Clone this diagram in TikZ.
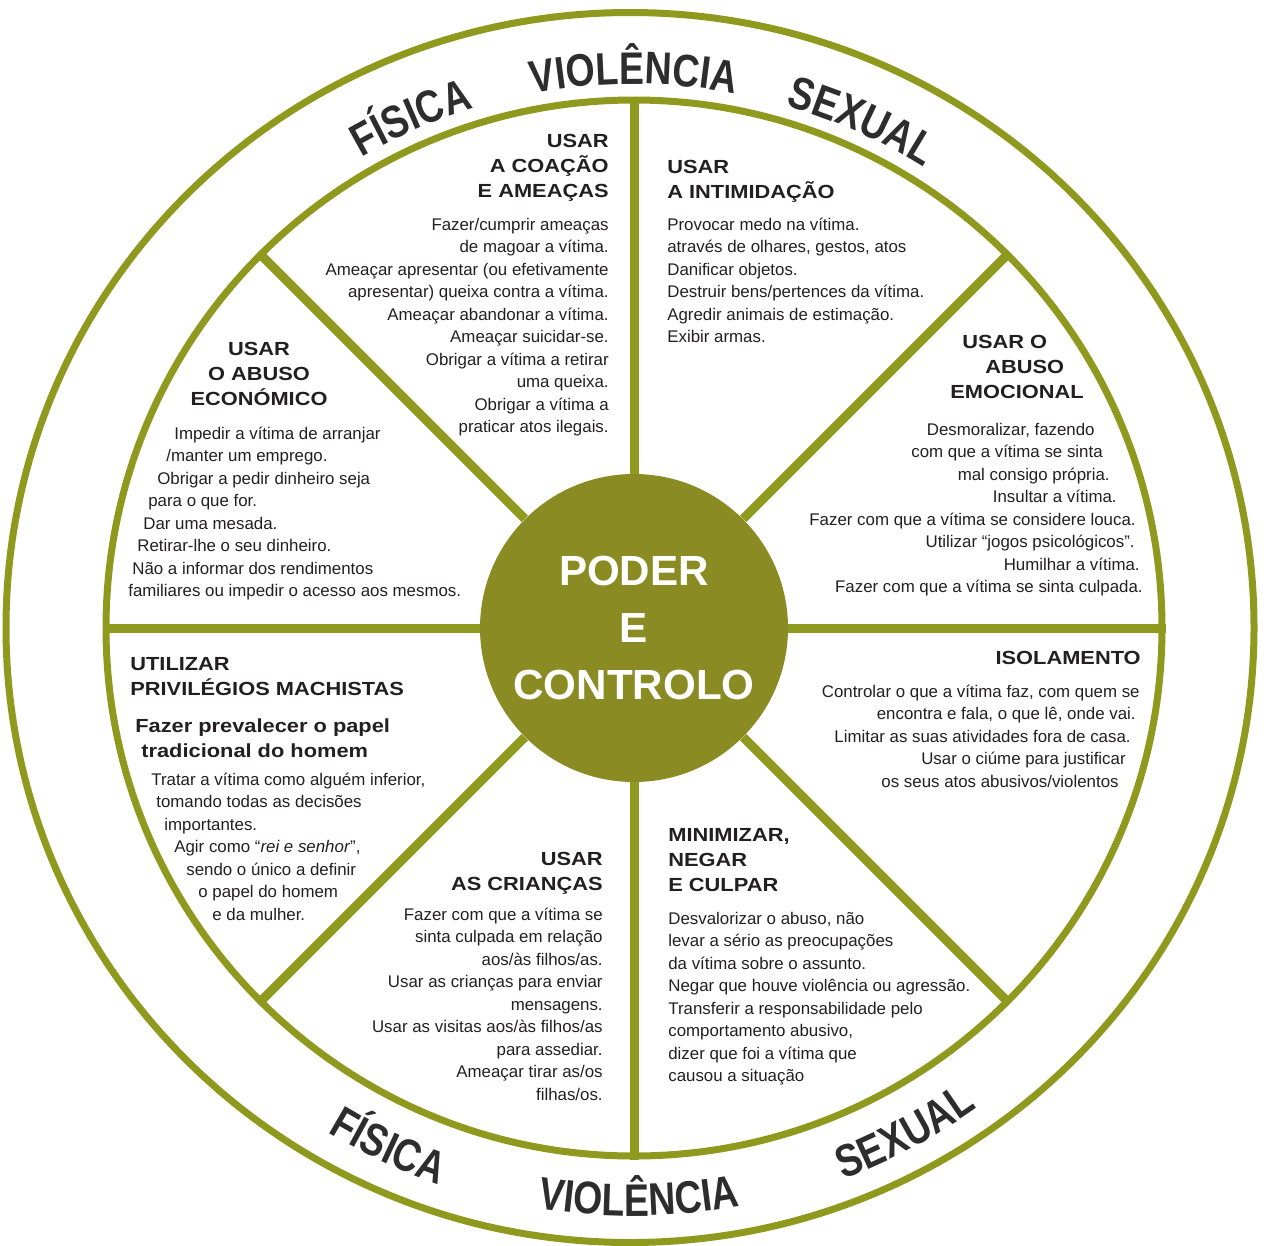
\documentclass[tikz,border=0pt]{standalone}
\usepackage{fontspec}
\setmainfont{Liberation Sans}
\newfontfamily\headfont[FakeStretch=1.15]{Liberation Sans}
\newfontfamily\ringfont[FakeStretch=0.82]{Liberation Sans}
\usetikzlibrary{decorations.text}

\definecolor{wheelgreen}{RGB}{143,153,30}
\definecolor{hubgreen}{RGB}{139,139,36}
\definecolor{ink}{RGB}{35,31,32}
\definecolor{ringink}{RGB}{45,45,45}

\newlength{\px}\setlength{\px}{0.02cm}
\newcommand{\lind}[1]{\hspace*{#1\px}}
\newcommand{\rind}[1]{\kern#1\px}
\newcommand{\bodytxt}{\fontsize{9.6}{12.8}\selectfont}
\newcommand{\headtxt}{\headfont\bfseries\fontsize{10.8}{14.4}\selectfont}
\newcommand{\ringtxt}{\ringfont\bfseries\fontsize{26}{26}\selectfont\color{ringink}}

\tikzset{
  body/.style={font=\bodytxt, text=ink, inner sep=0pt},
  head/.style={font=\headtxt, text=ink, inner sep=0pt},
  ringtext/.style={decorate, decoration={text along path, text align=center, text={|\ringtxt|#1}}},
}

\begin{document}
\begin{tikzpicture}[x=0.02cm, y=0.02cm]
\useasboundingbox (0,0) rectangle (1264,-1245);

\draw[wheelgreen, line width=7\px] (630,-627.5) ellipse [x radius=624, y radius=615];
\node (ring) [circle, draw=wheelgreen, line width=7\px, minimum size=1056\px, inner sep=0pt] at (634,-628) {};
\node (hub) [circle, fill=hubgreen, minimum size=308\px, inner sep=0pt, text=white, align=center,
  font=\bfseries\fontsize{24}{32.3}\selectfont] at (634,-628) {PODER\\E\\CONTROLO};
\foreach \a in {0,45,...,315}
  \draw[wheelgreen, line width=9\px] (hub.\a) -- (ring.\a);

\begin{scope}[shift={(634,-628)}]
\path[ringtext=VIOLÊNCIA] (110:544) arc[start angle=110, end angle=70, radius=544];
\path[ringtext=FÍSICA] (133.6:544) arc[start angle=133.6, end angle=93.6, radius=544];
\path[ringtext=SEXUAL] (85.8:544) arc[start angle=85.8, end angle=45.8, radius=544];
\path[ringtext=VIOLÊNCIA] (-109.5:588) arc[start angle=-109.5, end angle=-69.5, radius=588];
\path[ringtext=FÍSICA] (-135.3:590) arc[start angle=-135.3, end angle=-95.3, radius=590];
\path[ringtext=SEXUAL] (-81.8:590) arc[start angle=-81.8, end angle=-41.8, radius=590];
\end{scope}

% anchors sit on the baseline of the last line
\node (coacaoH) [head, align=right, anchor=base east] at (609,-197.6) {USAR\\A COAÇÃO\\E AMEAÇAS};
\node (coacao) [body, align=right, anchor=base east] at (609,-432.5) {Fazer/cumprir ameaças\\de magoar a vítima.\\Ameaçar apresentar (ou efetivamente\\apresentar) queixa contra a vítima.\\Ameaçar abandonar a vítima.\\Ameaçar suicidar-se.\\Obrigar a vítima a retirar\\uma queixa.\\Obrigar a vítima a\\praticar atos ilegais.};

\node (intimH) [head, align=left, anchor=base west] at (667,-198.3) {USAR\\A INTIMIDAÇÃO};
\node (intim) [body, align=left, anchor=base west] at (667,-342.5) {Provocar medo na vítima.\\através de olhares, gestos, atos\\Danificar objetos.\\Destruir bens/pertences da vítima.\\Agredir animais de estimação.\\Exibir armas.};

\node (emocH) [head, align=left, anchor=base west] at (950,-398.6) {\lind{12}USAR O\\\lind{35}ABUSO\\EMOCIONAL};
\node (emoc) [body, align=right, anchor=base east] at (1143,-592.5) {Desmoralizar, fazendo\rind{48}\\com que a vítima se sinta\rind{40}\\mal consigo própria.\rind{33}\\Insultar a vítima.\rind{26}\\Fazer com que a vítima se considere louca.\rind{7}\\Utilizar “jogos psicológicos”.\rind{8}\\Humilhar a vítima.\rind{3}\\Fazer com que a vítima se sinta culpada.};

\node (isolH) [head, anchor=base east] at (1141,-664) {ISOLAMENTO};
\node (isol) [body, align=right, anchor=base east] at (1140,-787) {Controlar o que a vítima faz, com quem se\\encontra e fala, o que lê, onde vai.\rind{4}\\Limitar as suas atividades fora de casa.\rind{9}\\Usar o ciúme para justificar\rind{14}\\os seus atos abusivos/violentos\rind{21}};

\node (minimH) [head, align=left, anchor=base west] at (668,-891.6) {MINIMIZAR,\\NEGAR\\E CULPAR};
\node (minim) [body, align=left, anchor=base west] at (668,-1081.5) {Desvalorizar o abuso, não\\levar a sério as preocupações\\da vítima sobre o assunto.\\Negar que houve violência ou agressão.\\Transferir a responsabilidade pelo\\comportamento abusivo,\\dizer que foi a vítima que\\causou a situação};

\node (criancasH) [head, align=right, anchor=base east] at (603,-890.3) {USAR\\AS CRIANÇAS};
\node (criancas) [body, align=right, anchor=base east] at (603,-1100) {Fazer com que a vítima se\\sinta culpada em relação\\aos/às filhos/as.\\Usar as crianças para enviar\\mensagens.\\Usar as visitas aos/às filhos/as\\para assediar.\\Ameaçar tirar as/os\\filhas/os.};

\node (machH) [head, align=left, anchor=base west] at (130,-695.3) {UTILIZAR\\PRIVILÉGIOS MACHISTAS};
\node (machSub) [head, align=left, anchor=base west] at (135,-757.3) {Fazer prevalecer o papel\\\lind{6}tradicional do homem};
\node (mach) [body, align=left, anchor=base west] at (151,-920) {Tratar a vítima como alguém inferior,\\\lind{5}tomando todas as decisões\\\lind{13}importantes.\\\lind{23}Agir como “\textit{rei e senhor}”,\\\lind{35}sendo o único a definir\\\lind{47}o papel do homem\\\lind{61}e da mulher.};

\node (econH) [head, align=center, anchor=base] at (259,-405.6) {USAR\\O ABUSO\\ECONÓMICO};
\node (econ) [body, align=left, anchor=base west] at (128,-596.5) {\lind{46}Impedir a vítima de arranjar\\\lind{38}/manter um emprego.\\\lind{29}Obrigar a pedir dinheiro seja\\\lind{20}para o que for.\\\lind{15}Dar uma mesada.\\\lind{9}Retirar-lhe o seu dinheiro.\\\lind{4}Não a informar dos rendimentos\\familiares ou impedir o acesso aos mesmos.};
\end{tikzpicture}
\end{document}
